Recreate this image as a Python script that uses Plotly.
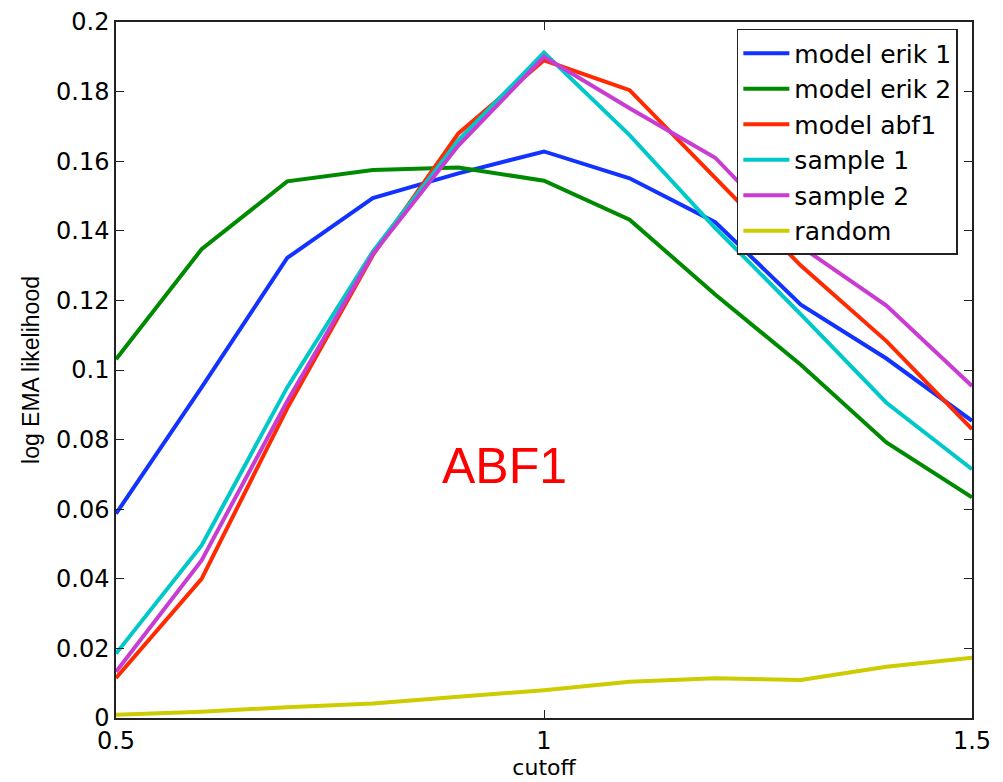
import plotly.graph_objects as go

cutoff = [0.5, 0.6, 0.7, 0.8, 0.9, 1.0, 1.1, 1.2, 1.3, 1.4, 1.5]
model_erik_1 = [0.0587, 0.0950, 0.1322, 0.1494, 0.1565, 0.1628, 0.1551, 0.1425, 0.1188, 0.1033, 0.0854]
model_erik_2 = [0.1031, 0.1347, 0.1542, 0.1575, 0.1582, 0.1544, 0.1432, 0.1217, 0.1015, 0.0792, 0.0634]
model_abf1 = [0.0115, 0.0400, 0.0890, 0.1330, 0.1680, 0.1890, 0.1804, 0.1550, 0.1300, 0.1083, 0.0830]
sample_1 = [0.0185, 0.0496, 0.0950, 0.1340, 0.1660, 0.1912, 0.1675, 0.1408, 0.1160, 0.0906, 0.0715]
sample_2 = [0.0133, 0.0453, 0.0910, 0.1333, 0.1645, 0.1900, 0.1752, 0.1610, 0.1355, 0.1185, 0.0954]
random_ = [0.0009, 0.0018, 0.0031, 0.0042, 0.0061, 0.0080, 0.0104, 0.0114, 0.0109, 0.0147, 0.0173]

series = [
    ("model erik 1", model_erik_1, "#1233ff"),
    ("model erik 2", model_erik_2, "#008a00"),
    ("model abf1", model_abf1, "#ff2a00"),
    ("sample 1", sample_1, "#00c8c8"),
    ("sample 2", sample_2, "#c83cd2"),
    ("random", random_, "#cccc00"),
]

x_ticks = [0.5, 1, 1.5]
x_tick_text = ["0.5", "1", "1.5"]
y_ticks = [0, 0.02, 0.04, 0.06, 0.08, 0.1, 0.12, 0.14, 0.16, 0.18, 0.2]
y_tick_text = ["0", "0.02", "0.04", "0.06", "0.08", "0.1", "0.12", "0.14", "0.16", "0.18", "0.2"]

fig = go.Figure()
for name, vals, col in series:
    fig.add_trace(go.Scatter(x=cutoff, y=vals, mode="lines", name=name,
                             line=dict(color=col, width=4)))

fig.add_annotation(x=0.954, y=0.0725, xref="x", yref="y", text="ABF1", showarrow=False,
                   font=dict(family="Liberation Sans, Arial", size=50, color="#ff0000"))

tickfont = dict(family="DejaVu Sans", size=24, color="#000000")
axis_common = dict(showgrid=False, zeroline=False, showline=True, linecolor="#222222",
                   linewidth=1.5, mirror="ticks", ticks="inside", ticklen=8,
                   tickcolor="#222222", tickfont=tickfont, automargin=False,
                   ticklabeloverflow="allow")

fig.update_layout(
    width=1003, height=782,
    margin=dict(l=108, r=39, t=14, b=72),
    paper_bgcolor="white", plot_bgcolor="white",
    xaxis=dict(range=[0.5, 1.5], tickvals=x_ticks, ticktext=x_tick_text,
               title=dict(text="cutoff", standoff=0,
                          font=dict(family="DejaVu Sans", size=22, color="#000000")),
               **axis_common),
    yaxis=dict(range=[0, 0.2], tickvals=y_ticks, ticktext=y_tick_text,
               title=dict(text="log EMA likelihood", standoff=10,
                          font=dict(family="Liberation Sans, Arial", size=23, color="#000000")),
               **axis_common),
    legend=dict(x=0.7253, y=0.99, xanchor="left", yanchor="top",
                bordercolor="#222222", borderwidth=1.5, bgcolor="white",
                font=dict(family="DejaVu Sans", size=25, color="#000000"),
                tracegroupgap=0, itemwidth=46),
    showlegend=True,
)

fig.write_html("out.html")
